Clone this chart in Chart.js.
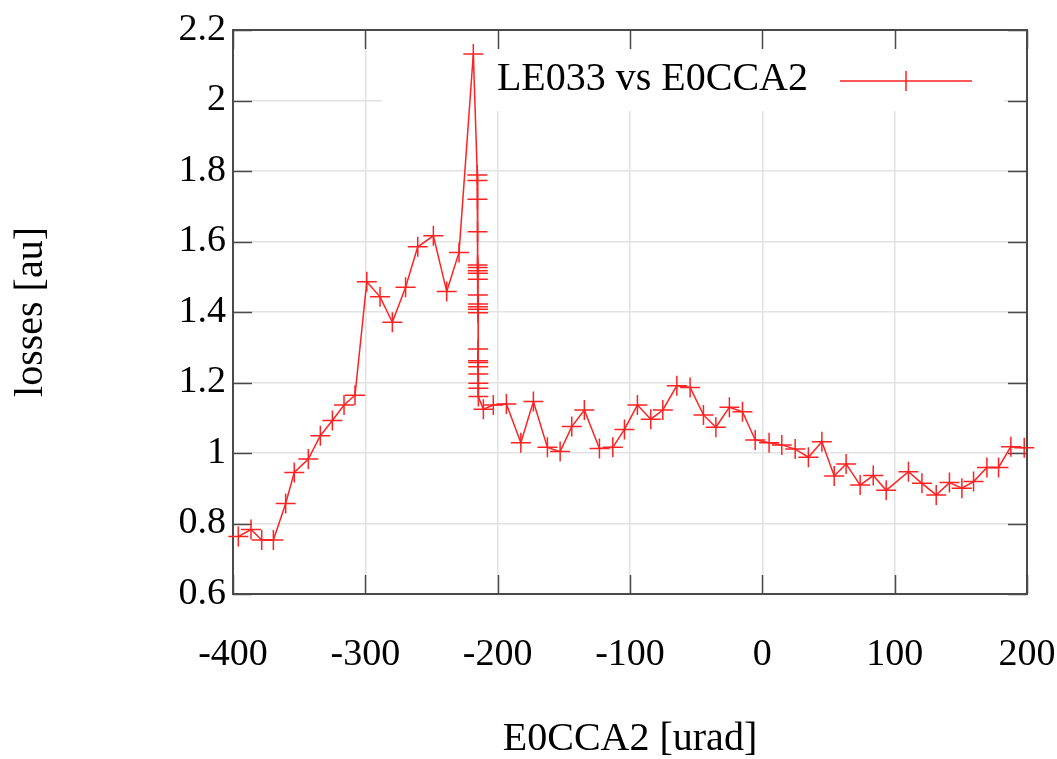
<!DOCTYPE html>
<html>
<head>
<meta charset="utf-8">
<script src="https://cdn.jsdelivr.net/npm/chart.js@4"></script>
<style>
  html, body { margin: 0; padding: 0; background: #ffffff; }
  #c { display: block; }
</style>
</head>
<body>
<canvas id="c" width="1057" height="759"></canvas>
<script>
// ---- data ----
const seriesName = 'LE033 vs E0CCA2';
const xTitle = 'E0CCA2 [urad]';
const yTitle = 'losses [au]';

const xValues = [
  -396.0, -386.4, -378.3, -369.5, -360.2, -353.7, -343.1, -334.0, -324.9, -316.1,
  -307.8, -298.9, -288.9, -279.6, -269.6, -260.4, -248.6, -238.5, -229.2, -218.4,
  -215.4, -215.3, -215.3, -215.2, -215.2, -215.1, -215.1, -215.0, -215.0, -215.0,
  -214.9, -214.9, -214.9, -214.8, -214.8, -214.8, -214.7, -214.7, -214.7, -214.6,
  -214.6, -214.6,
  -210.8, -203.3, -193.4, -182.5, -173.0, -162.4, -152.8, -144.0, -134.5, -123.1,
  -113.0, -104.2, -94.4, -84.3, -75.2, -64.6, -54.6, -44.5, -35.1, -24.9,
  -15.0, -5.4, 5.1, 14.7, 24.8, 34.8, 45.0, 54.3, 63.3, 73.9,
  83.8, 93.6, 110.4, 120.6, 131.4, 141.4, 150.8, 159.6, 169.7, 178.5,
  187.8, 197.9
];
const lossValues = [
  0.763, 0.783, 0.753, 0.753, 0.857, 0.945, 0.983, 1.049, 1.092, 1.136,
  1.164, 1.486, 1.443, 1.371, 1.470, 1.585, 1.616, 1.458, 1.569, 2.132,
  1.789, 1.773, 1.720, 1.628, 1.533, 1.526, 1.517, 1.510, 1.493, 1.448,
  1.423, 1.415, 1.408, 1.398, 1.295, 1.262, 1.257, 1.245, 1.224, 1.198,
  1.184, 1.160,
  1.124, 1.136, 1.139, 1.029, 1.146, 1.016, 1.004, 1.075, 1.122, 1.013,
  1.016, 1.067, 1.136, 1.096, 1.122, 1.191, 1.186, 1.108, 1.073, 1.130,
  1.117, 1.037, 1.029, 1.023, 1.011, 0.988, 1.032, 0.935, 0.969, 0.909,
  0.936, 0.894, 0.947, 0.914, 0.881, 0.916, 0.900, 0.919, 0.959, 0.959,
  1.018, 1.015
];

const xTicks = [-400, -300, -200, -100, 0, 100, 200];
const xTickLabels = ['-400', '-300', '-200', '-100', '0', '100', '200'];
const yTicks = [0.6, 0.8, 1.0, 1.2, 1.4, 1.6, 1.8, 2.0, 2.2];
const yTickLabels = ['0.6', '0.8', '1', '1.2', '1.4', '1.6', '1.8', '2', '2.2'];

// ---- styles ----
const FONT = "'Liberation Serif', 'Times New Roman', serif";
const RED = '#ff2222';
const FRAME = '#4a4a4a';

const points = xValues.map((x, i) => ({ x: x, y: lossValues[i] }));

const framePlugin = {
  id: 'framePlugin',
  beforeDatasetsDraw(chart) {
    const { ctx, chartArea: a, scales } = chart;
    const sx = scales.x, sy = scales.y;
    ctx.save();
    // key box background (covers the grid like gnuplot's key)
    ctx.fillStyle = '#ffffff';
    ctx.fillRect(382, a.top + 1, 1004 - 382, 110 - a.top);
    // inward tick marks on all four sides
    ctx.strokeStyle = FRAME;
    ctx.lineWidth = 1.5;
    const tl = 19;
    ctx.beginPath();
    xTicks.forEach(v => {
      const p = Math.round(sx.getPixelForValue(v)) + 0.5;
      ctx.moveTo(p, a.bottom); ctx.lineTo(p, a.bottom - tl);
      ctx.moveTo(p, a.top); ctx.lineTo(p, a.top + tl);
    });
    yTicks.forEach(v => {
      const p = Math.round(sy.getPixelForValue(v)) + 0.5;
      ctx.moveTo(a.left, p); ctx.lineTo(a.left + tl, p);
      ctx.moveTo(a.right, p); ctx.lineTo(a.right - tl, p);
    });
    ctx.stroke();
    // border box
    ctx.lineWidth = 2;
    ctx.strokeRect(a.left, a.top, a.right - a.left, a.bottom - a.top);
    ctx.restore();
  },
  afterDatasetsDraw(chart) {
    const { ctx } = chart;
    ctx.save();
    ctx.fillStyle = '#000000';
    ctx.font = '40px ' + FONT;
    ctx.textAlign = 'right';
    ctx.textBaseline = 'alphabetic';
    ctx.fillText(seriesName, 808, 90);
    // sample line with marker
    ctx.strokeStyle = RED;
    ctx.lineWidth = 1.5;
    ctx.beginPath();
    ctx.moveTo(840, 81); ctx.lineTo(972, 81);
    ctx.moveTo(896, 81); ctx.lineTo(916, 81);
    ctx.moveTo(906, 71); ctx.lineTo(906, 91);
    ctx.stroke();
    ctx.restore();
  }
};

new Chart(document.getElementById('c'), {
  type: 'line',
  data: {
    datasets: [{
      label: seriesName,
      data: points,
      borderColor: RED,
      backgroundColor: RED,
      borderWidth: 1.5,
      pointStyle: 'cross',
      pointRadius: 10,
      pointBorderWidth: 1.5,
      pointBorderColor: RED,
      pointHoverRadius: 10,
      tension: 0,
      fill: false,
      clip: false
    }]
  },
  options: {
    responsive: false,
    animation: false,
    events: [],
    layout: { padding: { left: 0, right: 30, top: 30, bottom: 0 } },
    plugins: {
      legend: { display: false },
      tooltip: { enabled: false }
    },
    scales: {
      x: {
        type: 'linear',
        min: -400,
        max: 200,
        afterBuildTicks: s => { s.ticks = xTicks.map(v => ({ value: v })); },
        afterFit: s => { s.height = 165; s.paddingLeft = 0; s.paddingRight = 0; },
        ticks: {
          color: '#000000',
          font: { family: FONT, size: 38 },
          padding: 38,
          maxRotation: 0,
          autoSkip: false,
          callback: (v, i) => xTickLabels[i]
        },
        grid: { color: '#e2e2e2', lineWidth: 1.5, drawTicks: false },
        border: { display: false },
        title: {
          display: true,
          text: xTitle,
          color: '#000000',
          font: { family: FONT, size: 40, lineHeight: 1 },
          padding: { top: 0, bottom: 0 }
        }
      },
      y: {
        type: 'linear',
        min: 0.6,
        max: 2.2,
        afterBuildTicks: s => { s.ticks = yTicks.map(v => ({ value: v })); },
        afterFit: s => { s.width = 233; s.paddingTop = 0; s.paddingBottom = 0; },
        ticks: {
          color: '#000000',
          font: { family: FONT, size: 38 },
          padding: 7,
          autoSkip: false,
          callback: (v, i) => yTickLabels[i]
        },
        grid: { color: '#e2e2e2', lineWidth: 1.5, drawTicks: false },
        border: { display: false },
        title: {
          display: true,
          text: yTitle,
          color: '#000000',
          font: { family: FONT, size: 40, lineHeight: 1.2 },
          padding: { top: 7, bottom: 0 }
        }
      }
    }
  },
  plugins: [framePlugin]
});
</script>
</body>
</html>
